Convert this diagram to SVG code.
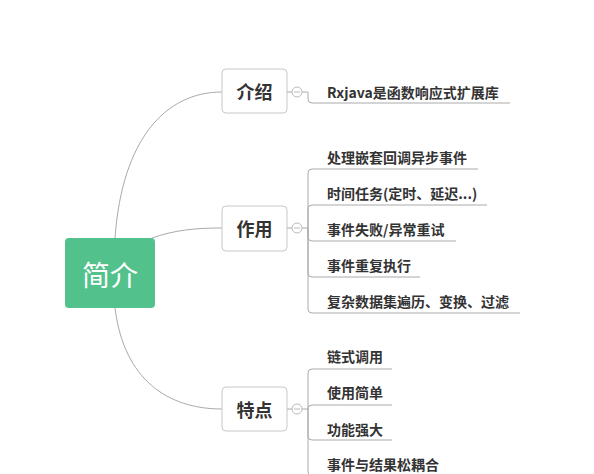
<svg xmlns="http://www.w3.org/2000/svg" width="594" height="474" viewBox="0 0 594 474">
<style>
.bg{fill:#ffffff}
.conn{fill:none;stroke:#aaaaaa;stroke-width:1}
.node rect{fill:#ffffff;stroke:#c8c8c8;stroke-width:1}
.ttl{font-family:"Noto Sans CJK SC","Liberation Sans",sans-serif;font-size:18px;font-weight:bold;fill:#333333;text-anchor:middle;dominant-baseline:central}
.leaf{font-family:"Noto Sans CJK SC","Liberation Sans",sans-serif;font-size:14px;font-weight:bold;fill:#333333;dominant-baseline:central}
.root rect{fill:#52c18b;stroke:none}
.roottxt{font-family:"Noto Sans CJK SC","Liberation Sans",sans-serif;font-size:28px;fill:#ffffff;text-anchor:middle;dominant-baseline:central}
.tog circle{fill:#ffffff;stroke:#bbbbbb;stroke-width:1}
.tog line{stroke:#bbbbbb;stroke-width:1}
</style>
<rect class="bg" x="0" y="0" width="594" height="474"/>
<g id="connectors">
<path class="conn" d="M115 238 C122 140 165 92 222 92"/>
<path class="conn" d="M152 238 C175 230 195 228 222 228"/>
<path class="conn" d="M115 308 C124 380 168 409 222 409"/>
<path class="conn" d="M287 92 H292 M302 92 H308 V99 Q308 103 312 103 H510"/>
<path class="conn" d="M287 228 H292 M302 228 H308 V173 Q308 169 312 169 H478"/>
<path class="conn" d="M308 228 V209 Q308 205 312 205 H487"/>
<path class="conn" d="M308 228 V237 Q308 241 312 241 H456"/>
<path class="conn" d="M308 228 V273 Q308 277 312 277 H420"/>
<path class="conn" d="M308 228 V309 Q308 313 312 313 H520"/>
<path class="conn" d="M287 409 H292 M302 409 H308 V373 Q308 369 312 369 H392"/>
<path class="conn" d="M308 409 V409 Q308 405 312 405 H392"/>
<path class="conn" d="M308 409 V436 Q308 440 312 440 H392"/>
<path class="conn" d="M308 409 V472 Q308 476 312 476 H440"/>
</g>
<g id="root" class="root">
<rect x="65" y="238" width="90" height="70" rx="4"/>
<text class="roottxt" x="110" y="274">简介</text>
</g>
<g id="n-intro" class="node">
<rect x="222" y="69" width="65" height="44" rx="4"/>
<text class="ttl" x="254.5" y="91">介绍</text>
</g>
<g id="n-use" class="node">
<rect x="222" y="206" width="65" height="45" rx="4"/>
<text class="ttl" x="254.5" y="228">作用</text>
</g>
<g id="n-feat" class="node">
<rect x="222" y="387" width="65" height="44" rx="4"/>
<text class="ttl" x="254.5" y="409">特点</text>
</g>
<g id="t-intro" class="tog"><circle cx="297" cy="92" r="5"/><line x1="294" y1="92" x2="300" y2="92"/></g>
<g id="t-use" class="tog"><circle cx="297" cy="228" r="5"/><line x1="294" y1="228" x2="300" y2="228"/></g>
<g id="t-feat" class="tog"><circle cx="297" cy="409" r="5"/><line x1="294" y1="409" x2="300" y2="409"/></g>
<g id="l1"><text class="leaf" x="327" y="92">Rxjava是函数响应式扩展库</text></g>
<g id="l2"><text class="leaf" x="327" y="157">处理嵌套回调异步事件</text></g>
<g id="l3"><text class="leaf" x="327" y="193">时间任务(定时、延迟...)</text></g>
<g id="l4"><text class="leaf" x="327" y="229">事件失败/异常重试</text></g>
<g id="l5"><text class="leaf" x="327" y="265">事件重复执行</text></g>
<g id="l6"><text class="leaf" x="327" y="301">复杂数据集遍历、变换、过滤</text></g>
<g id="l7"><text class="leaf" x="327" y="356">链式调用</text></g>
<g id="l8"><text class="leaf" x="327" y="392">使用简单</text></g>
<g id="l9"><text class="leaf" x="327" y="429">功能强大</text></g>
<g id="l10"><text class="leaf" x="327" y="464">事件与结果松耦合</text></g>
</svg>
